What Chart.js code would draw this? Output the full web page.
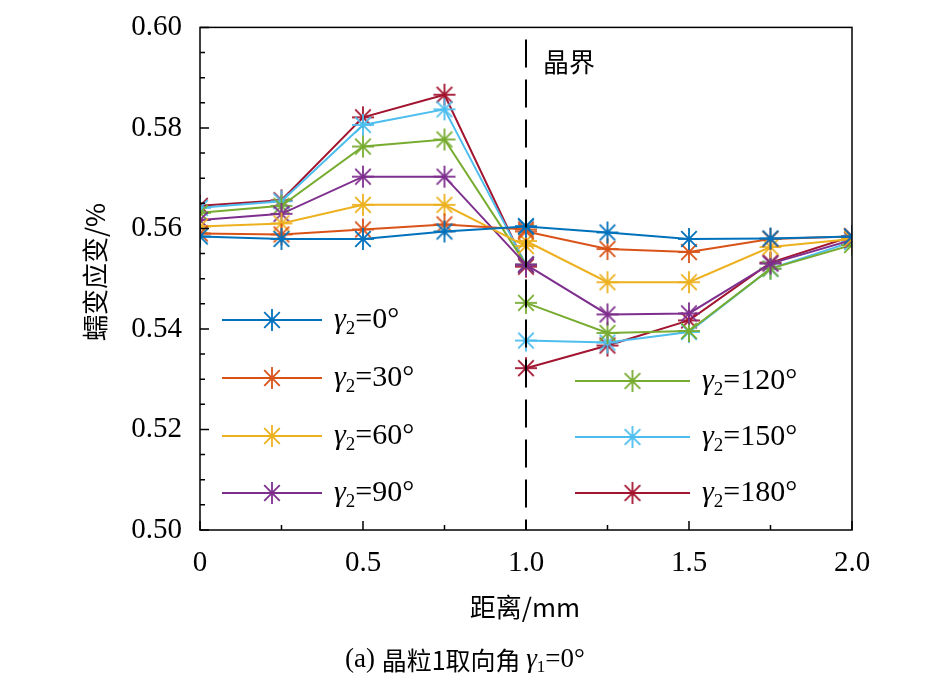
<!DOCTYPE html>
<html>
<head>
<meta charset="utf-8">
<script src="https://cdn.jsdelivr.net/npm/chart.js@4/dist/chart.umd.min.js"></script>
<style>
  body { margin: 0; background: #fff; }
  #wrap { width: 945px; height: 680px; }
</style>
</head>
<body>
<div id="wrap"><canvas id="c" width="945" height="680"></canvas></div>
<script>
// data
const xLeft  = [0, 0.25, 0.5, 0.75, 1.0];
const xRight = [1.0, 1.25, 1.5, 1.75, 2.0];
const angles = ['0', '30', '60', '90', '120', '150', '180'];
const colors = ['#0072BD', '#D95319', '#EDB120', '#7E2F8E', '#77AC30', '#4DBEEE', '#A2142F'];

const leftVals = [
  [0.5584, 0.5579, 0.5579, 0.5594, 0.5604],
  [0.5590, 0.5588, 0.5598, 0.5608, 0.5598],
  [0.5604, 0.5610, 0.5647, 0.5647, 0.5565],
  [0.5617, 0.5629, 0.5703, 0.5703, 0.5528],
  [0.5631, 0.5645, 0.5763, 0.5777, 0.5528],
  [0.5641, 0.5654, 0.5806, 0.5837, 0.5528],
  [0.5645, 0.5656, 0.5821, 0.5866, 0.5524]
];
const rightVals = [
  [0.5604, 0.5592, 0.5579, 0.5580, 0.5584],
  [0.5594, 0.5559, 0.5553, 0.5579, 0.5584],
  [0.5575, 0.5493, 0.5493, 0.5563, 0.5579],
  [0.5528, 0.5429, 0.5431, 0.5530, 0.5577],
  [0.5452, 0.5392, 0.5396, 0.5520, 0.5567],
  [0.5377, 0.5373, 0.5394, 0.5520, 0.5573],
  [0.5322, 0.5367, 0.5417, 0.5532, 0.5584]
];

const serif = '"Liberation Serif", "DejaVu Serif", serif';
const cjk = '"Noto Sans CJK SC", sans-serif';

// asterisk marker image
function star(color) {
  const s = 26, c = document.createElement('canvas');
  c.width = s; c.height = s;
  const g = c.getContext('2d');
  g.strokeStyle = color; g.lineWidth = 1.8;
  const r = 11;
  for (let i = 0; i < 4; i++) {
    const a = i * Math.PI / 4;
    g.beginPath();
    g.moveTo(s / 2 - r * Math.cos(a), s / 2 - r * Math.sin(a));
    g.lineTo(s / 2 + r * Math.cos(a), s / 2 + r * Math.sin(a));
    g.stroke();
  }
  return c;
}
const stars = colors.map(star);

const datasets = angles.map((a, i) => {
  const pts = xLeft.map((x, j) => ({ x, y: leftVals[i][j] }));
  pts.push({ x: 1.0, y: null });
  xRight.forEach((x, j) => pts.push({ x, y: rightVals[i][j] }));
  return {
    label: a, data: pts, borderColor: colors[i], borderWidth: 2,
    pointStyle: stars[i], spanGaps: false, tension: 0
  };
});

const deco = {
  id: 'deco',
  afterDraw(chart) {
    const { ctx, chartArea: ca, scales: { x, y } } = chart;
    ctx.save();
    ctx.strokeStyle = '#000'; ctx.lineWidth = 1.5;
    ctx.strokeRect(ca.left, ca.top, ca.right - ca.left, ca.bottom - ca.top);
    // ticks
    ctx.beginPath();
    for (let v = 0.50; v <= 0.6001; v += 0.005) {
      const py = y.getPixelForValue(v);
      const major = Math.round(v * 1000) % 20 === 0;
      ctx.moveTo(ca.left, py); ctx.lineTo(ca.left + (major ? 9 : 5), py);
    }
    for (let v = 0; v <= 2.0001; v += 0.25) {
      const px = x.getPixelForValue(v);
      const major = Math.round(v * 100) % 50 === 0;
      ctx.moveTo(px, ca.bottom); ctx.lineTo(px, ca.bottom - (major ? 9 : 5));
    }
    ctx.stroke();
    // grain boundary
    const bx = x.getPixelForValue(1.0);
    ctx.setLineDash([28, 12]); ctx.lineWidth = 2;
    ctx.beginPath(); ctx.moveTo(bx, ca.top + 12); ctx.lineTo(bx, ca.bottom); ctx.stroke();
    ctx.setLineDash([]);
    ctx.fillStyle = '#000';
    ctx.font = '26px ' + cjk; ctx.textBaseline = 'middle';
    ctx.fillText('晶界', 543, 62);
    // legend
    const rows = [[222, 320], [222, 378], [222, 436], [222, 493], [575, 381], [575, 437], [575, 493]];
    rows.forEach(([lx, ly], i) => {
      const len = lx < 400 ? 100 : 115;
      ctx.strokeStyle = colors[i]; ctx.lineWidth = 2;
      ctx.beginPath(); ctx.moveTo(lx, ly); ctx.lineTo(lx + len, ly); ctx.stroke();
      ctx.drawImage(stars[i], lx + len / 2 - 13, ly - 13);
      let tx = lx + len + 12;
      ctx.fillStyle = '#000';
      ctx.font = 'italic 30px ' + serif; ctx.fillText('γ', tx, ly);
      tx += ctx.measureText('γ').width;
      ctx.font = '19px ' + serif; ctx.fillText('2', tx, ly + 9);
      tx += ctx.measureText('2').width;
      ctx.font = '30px ' + serif; ctx.fillText('=' + angles[i] + '°', tx, ly);
    });
    // axis titles
    ctx.textAlign = 'center';
    ctx.font = '26px ' + cjk;
    ctx.fillText('距离/mm', 525, 607);
    ctx.save();
    ctx.translate(95, 272); ctx.rotate(-Math.PI / 2);
    ctx.fillText('蠕变应变/%', 0, 0);
    ctx.restore();
    // caption
    ctx.textAlign = 'left';
    let cx = 345;
    const parts = [['(a) ', '27px ' + serif, 0], ['晶粒1取向角 ', '25px ' + cjk, 0], ['γ', 'italic 27px ' + serif, 0],
      ['1', '17px ' + serif, 8], ['=0°', '27px ' + serif, 0]];
    parts.forEach(([t, f, dy]) => { ctx.font = f; ctx.fillText(t, cx, 660 + dy); cx += ctx.measureText(t).width; });
    ctx.restore();
  }
};

new Chart(document.getElementById('c'), {
  type: 'line',
  data: { datasets },
  options: {
    responsive: false, animation: false,
    layout: { padding: { top: 3, right: 93, left: 0, bottom: 0 } },
    plugins: { legend: { display: false }, tooltip: { enabled: false } },
    elements: { point: { radius: 12 } },
    scales: {
      x: {
        type: 'linear', min: 0, max: 2,
        grid: { display: false }, border: { display: false },
        afterFit(s) { s.height = 150; },
        ticks: {
          stepSize: 0.5, padding: 8, color: '#000', font: { family: serif, size: 29 },
          callback: v => v === 0 ? '0' : v.toFixed(1)
        }
      },
      y: {
        min: 0.50, max: 0.60,
        grid: { display: false }, border: { display: false },
        afterFit(s) { s.width = 200; },
        ticks: {
          stepSize: 0.02, padding: 10, color: '#000', font: { family: serif, size: 29 },
          callback: v => v.toFixed(2)
        }
      }
    }
  },
  plugins: [deco]
});
</script>
</body>
</html>
